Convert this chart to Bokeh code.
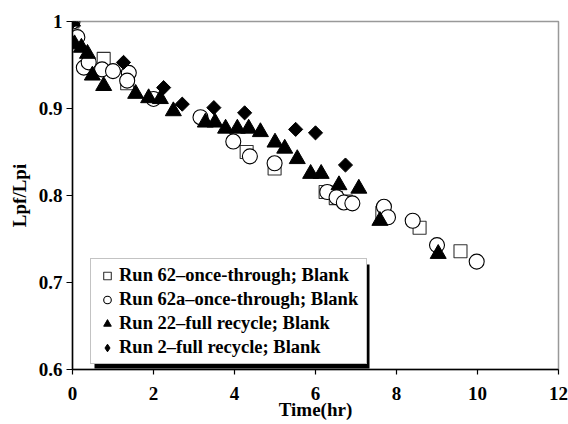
from bokeh.plotting import figure
from bokeh.models import Legend, LegendItem, FixedTicker, BoxAnnotation, Range1d
from bokeh.embed import file_html
from bokeh.resources import INLINE

# ---- data ----
run62_t = [0, 0.77, 1.35, 4.3, 4.99, 6.25, 6.5, 6.75, 7.65, 8.57, 9.58]
run62_v = [1.0, 0.957, 0.929, 0.850, 0.831, 0.804, 0.797, 0.793, 0.780, 0.763, 0.736]

run62a_t = [0, 0.12, 0.28, 0.40, 0.73, 1.0, 1.39, 1.35, 2.0, 3.16, 3.97, 4.38, 4.99,
            6.29, 6.52, 6.70, 6.91, 7.69, 7.79, 8.40, 9.0, 9.98]
run62a_v = [1.0, 0.982, 0.947, 0.953, 0.945, 0.943, 0.941, 0.932, 0.911, 0.890, 0.862, 0.845, 0.837,
            0.804, 0.798, 0.792, 0.791, 0.787, 0.775, 0.771, 0.743, 0.724]

run22_t = [0, 0.05, 0.22, 0.37, 0.49, 0.77, 1.56, 1.88, 2.17, 2.49, 3.28, 3.52, 3.78, 4.07,
           4.35, 4.64, 5.0, 5.24, 5.55, 5.88, 6.14, 6.58, 7.07, 7.59, 9.03]
run22_v = [1.0, 0.974, 0.970, 0.963, 0.938, 0.926, 0.917, 0.912, 0.911, 0.897, 0.884, 0.884, 0.877, 0.877,
           0.877, 0.873, 0.861, 0.854, 0.842, 0.825, 0.825, 0.812, 0.808, 0.771, 0.733]

run2_t = [0, 1.26, 2.25, 2.71, 3.49, 4.25, 5.51, 6.0, 6.74]
run2_v = [1.0, 0.953, 0.924, 0.905, 0.901, 0.895, 0.876, 0.872, 0.835]

series_labels = ["Run 62\u2013once-through; Blank",
                 "Run 62a\u2013once-through; Blank",
                 "Run 22\u2013full recycle; Blank",
                 "Run 2\u2013full recycle; Blank"]

x_ticks = [0, 2, 4, 6, 8, 10, 12]
y_ticks = [0.6, 0.7, 0.8, 0.9, 1.0]
y_tick_labels = ["0.6", "0.7", "0.8", "0.9", "1"]
x_title = "Time(hr)"
y_title = "Lpf/Lpi"

FONT = "Liberation Serif"
FW, FH = 486, 348

p = figure(frame_width=FW, frame_height=FH,
           min_border_left=72, min_border_right=10, min_border_top=21, min_border_bottom=53,
           output_backend="svg", toolbar_location=None,
           x_range=Range1d(0, 12), y_range=Range1d(0.6, 1.0))
p.grid.visible = False
p.outline_line_color = "#999999"
p.outline_line_width = 1.5
p.background_fill_color = "white"
p.border_fill_color = "white"

for ax in (p.xaxis[0], p.yaxis[0]):
    ax.axis_line_color = "black"
    ax.axis_line_width = 1.5
    ax.major_tick_line_color = "black"
    ax.major_tick_line_width = 1.2
    ax.major_tick_in = 0
    ax.minor_tick_line_color = None
    ax.major_label_text_font = FONT
    ax.major_label_text_font_style = "bold"
    ax.major_label_text_font_size = "19px"
    ax.major_label_text_color = "black"
    ax.axis_label_text_font = FONT
    ax.axis_label_text_font_style = "bold"
    ax.axis_label_text_font_size = "19px"
    ax.axis_label_text_color = "black"

p.xaxis[0].ticker = FixedTicker(ticks=x_ticks)
p.xaxis[0].major_tick_out = 5
p.xaxis[0].major_label_standoff = 12
p.xaxis[0].axis_label = x_title
p.xaxis[0].axis_label_standoff = -4

p.yaxis[0].ticker = FixedTicker(ticks=y_ticks)
p.yaxis[0].major_label_overrides = dict(zip(y_ticks, y_tick_labels))
p.yaxis[0].major_tick_out = 6
p.yaxis[0].major_label_standoff = 4
p.yaxis[0].axis_label = y_title
p.yaxis[0].axis_label_standoff = 6

r1 = p.scatter(run62_t, run62_v, marker="square", size=13, fill_color="white",
               line_color="#333333", line_width=1.1)
r2 = p.scatter(run62a_t, run62a_v, marker="circle", size=15, fill_color="white",
               line_color="black", line_width=1.1)
r3 = p.scatter(run22_t, run22_v, marker="triangle", size=16, fill_color="black",
               line_color="black", line_width=1)
# diamond series: a narrow diamond (used for the legend swatch, since swatches
# ignore marker angle) covered by a 45-degree square of the same points
r4_key = p.scatter(run2_t, run2_v, marker="diamond", size=10, fill_color="black",
                   line_color="black", line_width=1)
r4 = p.scatter(run2_t, run2_v, marker="square", angle=0.785398, size=10, fill_color="black",
               line_color="black", line_width=1)

# legend geometry (pixels relative to frame bottom-left)
LX, LY = 18, 5
LW, LH = 275, 104


def px_x(px):
    return px / FW * 12


def px_y(py):
    return 0.6 + py / FH * 0.4


shadow = BoxAnnotation(left=px_x(LX + 4), right=px_x(LX + LW + 4),
                       bottom=px_y(LY - 4), top=px_y(LY + LH - 4),
                       fill_color="black", fill_alpha=1, line_color=None)
p.add_layout(shadow)

legend = Legend(items=[LegendItem(label=series_labels[0], renderers=[r1]),
                       LegendItem(label=series_labels[1], renderers=[r2]),
                       LegendItem(label=series_labels[2], renderers=[r3]),
                       LegendItem(label=series_labels[3], renderers=[r4_key])],
                location=(LX, LY), orientation="vertical",
                padding=4, spacing=0, margin=0,
                glyph_width=24, glyph_height=19, label_height=24, label_width=243,
                label_standoff=0,
                label_text_font=FONT, label_text_font_style="bold",
                label_text_font_size="18.5px", label_text_color="black",
                border_line_color="#888888", border_line_width=1.5,
                background_fill_color="white", background_fill_alpha=1)
p.add_layout(legend)

open("out.html", "w").write(file_html(p, INLINE))
